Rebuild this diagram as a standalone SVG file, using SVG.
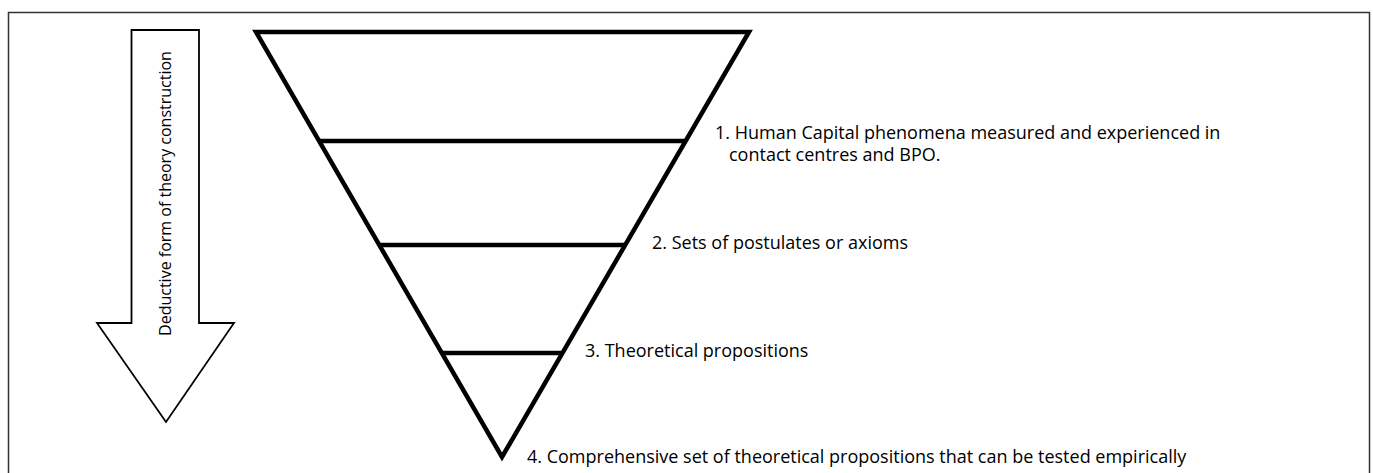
<svg xmlns="http://www.w3.org/2000/svg" width="1373" height="473" viewBox="0 0 1373 473">
<style>
.frame{fill:none;stroke:#333;stroke-width:1.5}
.tri{fill:none;stroke:#000;stroke-width:4.5;stroke-linejoin:miter}
.lvl{stroke:#000;stroke-width:4.5}
.arrow{fill:#fff;stroke:#000;stroke-width:1.8;stroke-linejoin:miter}
.lbl{font-family:"Open Sans","Liberation Sans",Arial,sans-serif;font-size:18px;fill:#000}
.alb{font-family:"Open Sans","Liberation Sans",Arial,sans-serif;font-size:16px;fill:#000}
</style>
<rect class="frame" x="8.5" y="12.5" width="1361" height="500"/>
<g id="arrow">
<polygon class="arrow" points="131.5,30 199,30 199,323 234,323 166,422 97,323 131.5,323"/>
<text class="alb" transform="translate(171,193.5) rotate(-90)" text-anchor="middle">Deductive form of theory construction</text>
</g>
<g id="pyramid">
<polygon class="tri" points="256,32 749,32 502,457"/>
</g>
<g id="connectors">
<line class="lvl" id="level1" x1="318" y1="141" x2="686" y2="141"/>
<line class="lvl" id="level2" x1="379" y1="245" x2="625" y2="245"/>
<line class="lvl" id="level3" x1="441" y1="353" x2="563" y2="353"/>
</g>
<g id="label1">
<text class="lbl" x="715" y="139">1. Human Capital phenomena measured and experienced in</text>
<text class="lbl" x="729" y="161">contact centres and BPO.</text>
</g>
<g id="label2"><text class="lbl" x="652" y="249">2. Sets of postulates or axioms</text></g>
<g id="label3"><text class="lbl" x="585" y="357">3. Theoretical propositions</text></g>
<g id="label4"><text class="lbl" x="527" y="463">4. Comprehensive set of theoretical propositions that can be tested empirically</text></g>
</svg>
